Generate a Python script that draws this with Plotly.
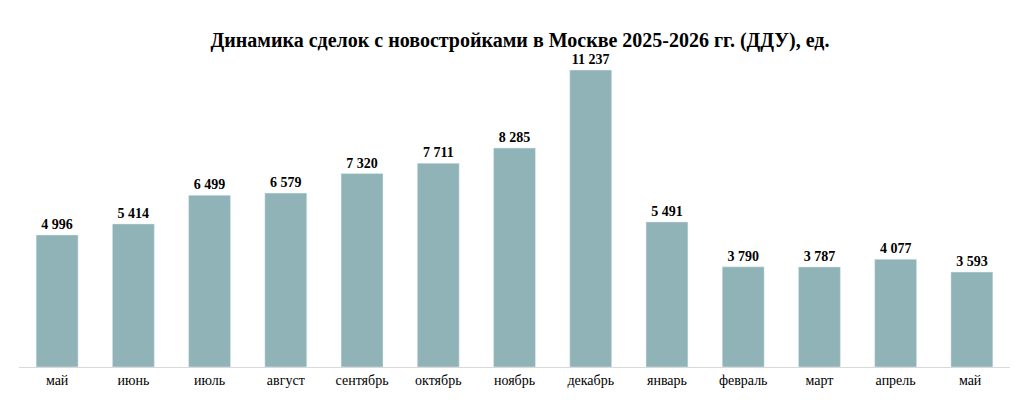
import plotly.graph_objects as go

months = ["май", "июнь", "июль", "август", "сентябрь", "октябрь", "ноябрь",
          "декабрь", "январь", "февраль", "март", "апрель", "май "]
deals = [4996, 5414, 6499, 6579, 7320, 7711, 8285, 11237, 5491, 3790, 3787, 4077, 3593]
labels = [f"{v:,}".replace(",", " ") for v in deals]

fig = go.Figure(go.Bar(
    x=months,
    y=deals,
    text=labels,
    textposition="outside",
    cliponaxis=False,
    textfont=dict(family="Liberation Serif", size=14, color="black", weight="bold"),
    marker=dict(color="#8fb3b7"),
    width=0.55,
))

fig.update_layout(
    title=dict(text="<b>Динамика сделок с новостройками в Москве 2025-2026 гг. (ДДУ), ед.</b>",
               x=0.5, y=0.94, xanchor="center",
               font=dict(family="Liberation Serif", size=20, color="black")),
    width=1024, height=414,
    margin=dict(l=11, r=22, t=40, b=55),
    plot_bgcolor="white", paper_bgcolor="white",
    showlegend=False,
    font=dict(family="Liberation Serif", size=14, color="black"),
)
fig.update_xaxes(showline=True, linecolor="#d9d9d9", ticks="", showgrid=False)
fig.update_yaxes(visible=False, range=[0, 12070])

fig.write_html("out.html")
